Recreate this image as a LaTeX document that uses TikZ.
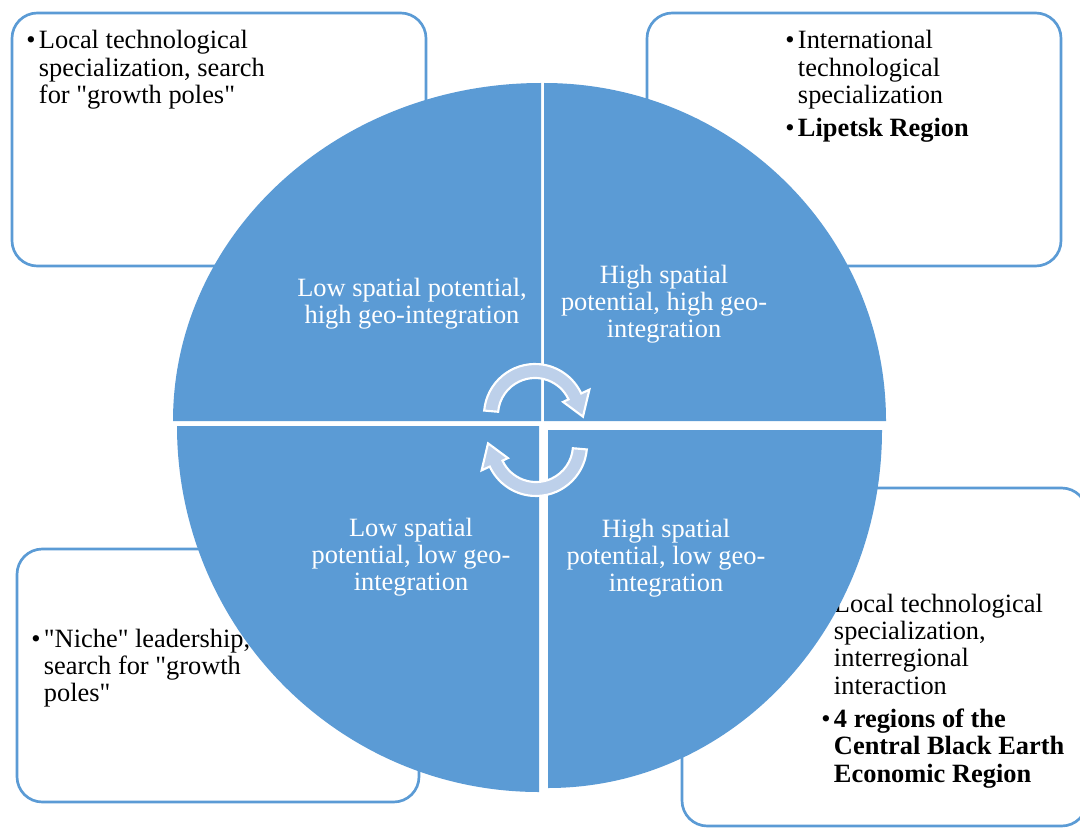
\documentclass[tikz,border=0pt]{standalone}
\usepackage{fontspec}
\setmainfont{Liberation Serif}[Ligatures=TeXOff]
\usetikzlibrary{calc}
\definecolor{qblue}{RGB}{91,155,213}
\definecolor{arrowfill}{RGB}{189,208,234}
\tikzset{
  boxtxt/.style={anchor=base west, inner sep=0pt, font=\fontsize{19.8}{20.5}\selectfont, text=black},
  quadtxt/.style={anchor=base, inner sep=0pt, font=\fontsize{19.8}{20.5}\selectfont, text=white},
  panel/.style={draw=qblue, line width=2pt, rounded corners=19pt, fill=white},
  quad/.style={fill=qblue},
  cyc/.style={fill=arrowfill, draw=white, line width=1.6pt, line join=miter}
}
\newcommand{\bul}{\textbullet}
\begin{document}
\begin{tikzpicture}[x=0.75pt,y=-0.75pt]
\clip (0,0) rectangle (1080,827);
\fill[white] (0,0) rectangle (1080,827);

% outer panels
\draw[panel] (12,13) rectangle (426,266);
\draw[panel] (647,13) rectangle (1061,266);
\draw[panel] (17,549) rectangle (419,802);
\draw[panel] (682,488) rectangle (1087,826);

% panel texts
\node[boxtxt] (tltext) at (26,49) {\begin{tabular}[t]{@{}l@{\hspace{2.6pt}}l@{}}\bul & Local technological\\ & specialization, search\\ & for "growth poles"\end{tabular}};
\node[boxtxt] (trtext) at (785,49) {\begin{tabular}[t]{@{}l@{\hspace{2.6pt}}l@{}}\bul & International\\ & technological\\ & specialization\\[4.5pt] \bul & \bfseries Lipetsk Region\end{tabular}};
\node[boxtxt] (bltext) at (31,647) {\begin{tabular}[t]{@{}l@{\hspace{2.6pt}}l@{}}\bul & "Niche" leadership,\\ & search for "growth\\ & poles"\end{tabular}};
\node[boxtxt] (brtext) at (821,612) {\begin{tabular}[t]{@{}l@{\hspace{2.6pt}}l@{}}\bul & Local technological\\ & specialization,\\ & interregional\\ & interaction\\[4.5pt] \bul & \bfseries 4 regions of the\\ & \bfseries Central Black Earth\\ & \bfseries Economic Region\end{tabular}};

% quadrants
\fill[quad] (541,421) -- ++(-368,0) arc[start angle=180,end angle=270,x radius=368,y radius=338] -- cycle;
\fill[quad] (544,421) -- ++(0,-338) arc[start angle=270,end angle=360,x radius=342,y radius=338] -- cycle;
\fill[quad] (548,430) -- ++(334,0) arc[start angle=0,end angle=90,x radius=334,y radius=358] -- cycle;
\fill[quad] (539,426) -- ++(0,366) arc[start angle=90,end angle=180,x radius=362,y radius=366] -- cycle;

% quadrant texts
\node[quadtxt] (qtl) at (412,296) {\begin{tabular}[t]{@{}c@{}}Low spatial potential,\\ high geo-integration\end{tabular}};
\node[quadtxt] (qtr) at (664,283) {\begin{tabular}[t]{@{}c@{}}High spatial\\ potential, high geo-\\ integration\end{tabular}};
\node[quadtxt] (qbl) at (411,536) {\begin{tabular}[t]{@{}c@{}}Low spatial\\ potential, low geo-\\ integration\end{tabular}};
\node[quadtxt] (qbr) at (666,537) {\begin{tabular}[t]{@{}c@{}}High spatial\\ potential, low geo-\\ integration\end{tabular}};

% cycle arrows
\coordinate (c1) at (535,415);
\coordinate (c2) at (536,445);
\path[cyc] ($(c1)+(185:51)$) arc[start angle=185,end angle=335,radius=51]
  -- ($(c1)+(335:60)$) -- ($(c1)+(2:48)$) -- ($(c1)+(335:31)$) -- ($(c1)+(335:37)$)
  arc[start angle=335,end angle=185,radius=37] -- cycle;
\path[cyc] ($(c2)+(5:51)$) arc[start angle=5,end angle=155,radius=51]
  -- ($(c2)+(155:60)$) -- ($(c2)+(182:48)$) -- ($(c2)+(155:31)$) -- ($(c2)+(155:37)$)
  arc[start angle=155,end angle=5,radius=37] -- cycle;
\end{tikzpicture}
\end{document}
